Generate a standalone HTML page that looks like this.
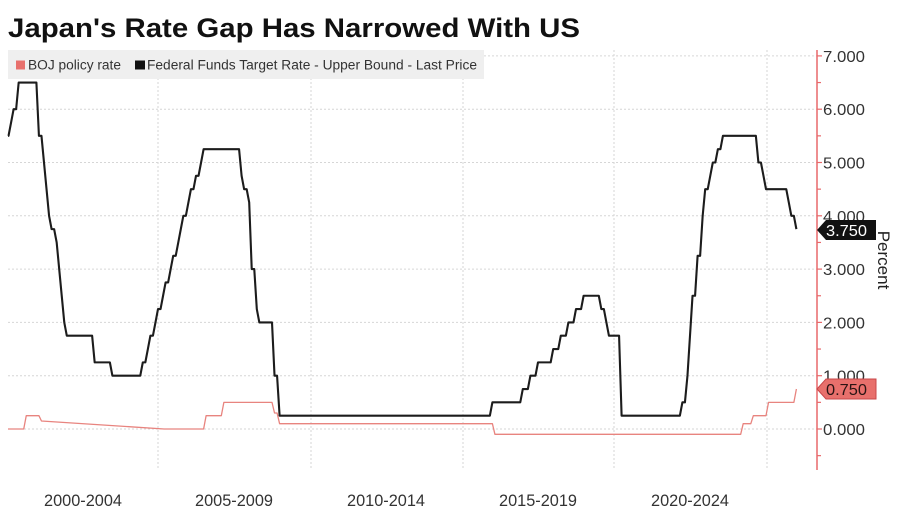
<!DOCTYPE html>
<html>
<head>
<meta charset="utf-8">
<style>
  html,body{margin:0;padding:0;background:#fff;}
  svg{display:block;}
  text{font-family:"Liberation Sans","DejaVu Sans",sans-serif;}
</style>
</head>
<body>
<svg width="900" height="510" viewBox="0 0 900 510" xmlns="http://www.w3.org/2000/svg">
  <rect x="0" y="0" width="900" height="510" fill="#ffffff"/>

  <!-- Title -->
  <text x="8" y="37" font-size="26.5" font-weight="bold" fill="#111" textLength="572" lengthAdjust="spacingAndGlyphs">Japan's Rate Gap Has Narrowed With US</text>

  <!-- gridlines -->
  <g stroke="#d6d6d6" stroke-width="1" stroke-dasharray="2,2" fill="none">
    <line x1="8" y1="429" x2="817" y2="429"/>
    <line x1="8" y1="375.7" x2="817" y2="375.7"/>
    <line x1="8" y1="322.4" x2="817" y2="322.4"/>
    <line x1="8" y1="269.1" x2="817" y2="269.1"/>
    <line x1="8" y1="215.8" x2="817" y2="215.8"/>
    <line x1="8" y1="162.5" x2="817" y2="162.5"/>
    <line x1="8" y1="109.2" x2="817" y2="109.2"/>
    <line x1="8" y1="55.9" x2="817" y2="55.9"/>
    <line x1="158" y1="50" x2="158" y2="468"/>
    <line x1="311" y1="50" x2="311" y2="468"/>
    <line x1="463" y1="50" x2="463" y2="468"/>
    <line x1="614" y1="50" x2="614" y2="468"/>
    <line x1="767" y1="50" x2="767" y2="468"/>
  </g>

  <!-- legend -->
  <rect x="8" y="50" width="476" height="29" fill="#efefef"/>
  <rect x="16" y="60.5" width="9" height="9" fill="#e8706c"/>
  <text x="28" y="69.5" font-size="13.5" fill="#333" textLength="93" lengthAdjust="spacingAndGlyphs">BOJ policy rate</text>
  <rect x="135" y="60.5" width="10" height="9" fill="#111"/>
  <text x="147" y="69.5" font-size="13.5" fill="#333" textLength="330" lengthAdjust="spacingAndGlyphs">Federal Funds Target Rate - Upper Bound - Last Price</text>

  <!-- BOJ series -->
  <path d="M8 429 L23.73 429 L26.27 415.68 L38.93 415.68 L41.47 421 L164.08 429 L203.6 429 L206.13 415.68 L221.33 415.68 L223.87 402.35 L272 402.35 L274.53 413.01 L277.07 413.01 L279.6 423.67 L492.4 423.67 L494.93 434.33 L740.67 434.33 L743.2 423.67 L750.8 423.67 L753.33 415.68 L766 415.68 L768.53 402.35 L793.87 402.35 L796.4 389.03" fill="none" stroke="#e8847f" stroke-width="1.3" stroke-linejoin="round"/>

  <!-- Fed series -->
  <path d="M8 135.85 L8.53 135.85 L11.07 122.53 L13.6 109.2 L16.13 109.2 L18.67 82.55 L36.4 82.55 L38.93 135.85 L41.47 135.85 L44 162.5 L46.53 189.15 L49.07 215.8 L51.6 229.13 L54.13 229.13 L56.67 242.45 L59.2 269.1 L61.73 295.75 L64.27 322.4 L66.8 335.73 L92.13 335.73 L94.67 362.38 L109.87 362.38 L112.4 375.7 L140.27 375.7 L142.8 362.38 L145.33 362.38 L147.87 349.05 L150.4 335.73 L152.93 335.73 L155.47 322.4 L158 309.08 L160.53 309.08 L163.07 295.75 L165.6 282.43 L168.13 282.43 L170.67 269.1 L173.2 255.78 L175.73 255.78 L178.27 242.45 L180.8 229.13 L183.33 215.8 L185.87 215.8 L188.4 202.48 L190.93 189.15 L193.47 189.15 L196 175.83 L198.53 175.83 L201.07 162.5 L203.6 149.18 L239.07 149.18 L241.6 175.83 L244.13 189.15 L246.67 189.15 L249.2 202.48 L251.73 269.1 L254.27 269.1 L256.8 309.08 L259.33 322.4 L272 322.4 L274.53 375.7 L277.07 375.7 L279.6 415.68 L489.87 415.68 L492.4 402.35 L520.27 402.35 L522.8 389.03 L527.87 389.03 L530.4 375.7 L535.47 375.7 L538 362.38 L550.67 362.38 L553.2 349.05 L558.27 349.05 L560.8 335.73 L565.87 335.73 L568.4 322.4 L573.47 322.4 L576 309.08 L581.07 309.08 L583.6 295.75 L598.8 295.75 L601.33 309.08 L603.87 309.08 L606.4 322.4 L608.93 335.73 L619.07 335.73 L621.6 415.68 L679.87 415.68 L682.4 402.35 L684.93 402.35 L687.47 375.7 L690 335.73 L692.53 295.75 L695.07 295.75 L697.6 255.78 L700.13 255.78 L702.67 215.8 L705.2 189.15 L707.73 189.15 L710.27 175.83 L712.8 162.5 L715.33 162.5 L717.87 149.18 L720.4 149.18 L722.93 135.85 L755.87 135.85 L758.4 162.5 L760.93 162.5 L763.47 175.83 L766 189.15 L786.27 189.15 L788.8 202.48 L791.33 215.8 L793.87 215.8 L796.4 229.13" fill="none" stroke="#1c1c1c" stroke-width="2.1" stroke-linejoin="round"/>

  <!-- right axis -->
  <line x1="817" y1="50" x2="817" y2="470" stroke="#e8696b" stroke-width="1.5"/>
  <g stroke="#e8696b" stroke-width="1.2">
    <line x1="817" y1="429" x2="822" y2="429"/>
    <line x1="817" y1="375.7" x2="822" y2="375.7"/>
    <line x1="817" y1="322.4" x2="822" y2="322.4"/>
    <line x1="817" y1="269.1" x2="822" y2="269.1"/>
    <line x1="817" y1="215.8" x2="822" y2="215.8"/>
    <line x1="817" y1="162.5" x2="822" y2="162.5"/>
    <line x1="817" y1="109.2" x2="822" y2="109.2"/>
    <line x1="817" y1="55.9" x2="822" y2="55.9"/>
    <line x1="817" y1="455.65" x2="821" y2="455.65"/>
    <line x1="817" y1="402.35" x2="821" y2="402.35"/>
    <line x1="817" y1="349.05" x2="821" y2="349.05"/>
    <line x1="817" y1="295.75" x2="821" y2="295.75"/>
    <line x1="817" y1="242.45" x2="821" y2="242.45"/>
    <line x1="817" y1="189.15" x2="821" y2="189.15"/>
    <line x1="817" y1="135.85" x2="821" y2="135.85"/>
    <line x1="817" y1="82.55" x2="821" y2="82.55"/>
  </g>
  <g font-size="16" fill="#333">
    <text x="823" y="435" textLength="42" lengthAdjust="spacingAndGlyphs">0.000</text>
    <text x="823" y="381.7" textLength="42" lengthAdjust="spacingAndGlyphs">1.000</text>
    <text x="823" y="328.4" textLength="42" lengthAdjust="spacingAndGlyphs">2.000</text>
    <text x="823" y="275.1" textLength="42" lengthAdjust="spacingAndGlyphs">3.000</text>
    <text x="823" y="221.8" textLength="42" lengthAdjust="spacingAndGlyphs">4.000</text>
    <text x="823" y="168.5" textLength="42" lengthAdjust="spacingAndGlyphs">5.000</text>
    <text x="823" y="115.2" textLength="42" lengthAdjust="spacingAndGlyphs">6.000</text>
    <text x="823" y="61.9" textLength="42" lengthAdjust="spacingAndGlyphs">7.000</text>
  </g>

  <!-- badges -->
  <polygon points="817,230 826,220 876,220 876,240 826,240" fill="#111"/>
  <text x="826" y="236" font-size="16" fill="#fff" textLength="41" lengthAdjust="spacingAndGlyphs">3.750</text>
  <polygon points="817,389 826,379 876,379 876,399 826,399" fill="#e8706c" stroke="#c9474a" stroke-width="1"/>
  <text x="826" y="395" font-size="16" fill="#2a1414" textLength="41" lengthAdjust="spacingAndGlyphs">0.750</text>

  <!-- Percent -->
  <text transform="translate(878,260) rotate(90)" text-anchor="middle" font-size="17" fill="#222">Percent</text>

  <!-- x labels -->
  <g font-size="17" fill="#333" text-anchor="middle">
    <text x="83" y="506" textLength="78" lengthAdjust="spacingAndGlyphs">2000-2004</text>
    <text x="234" y="506" textLength="78" lengthAdjust="spacingAndGlyphs">2005-2009</text>
    <text x="386" y="506" textLength="78" lengthAdjust="spacingAndGlyphs">2010-2014</text>
    <text x="538" y="506" textLength="78" lengthAdjust="spacingAndGlyphs">2015-2019</text>
    <text x="690" y="506" textLength="78" lengthAdjust="spacingAndGlyphs">2020-2024</text>
  </g>
</svg>
</body>
</html>
